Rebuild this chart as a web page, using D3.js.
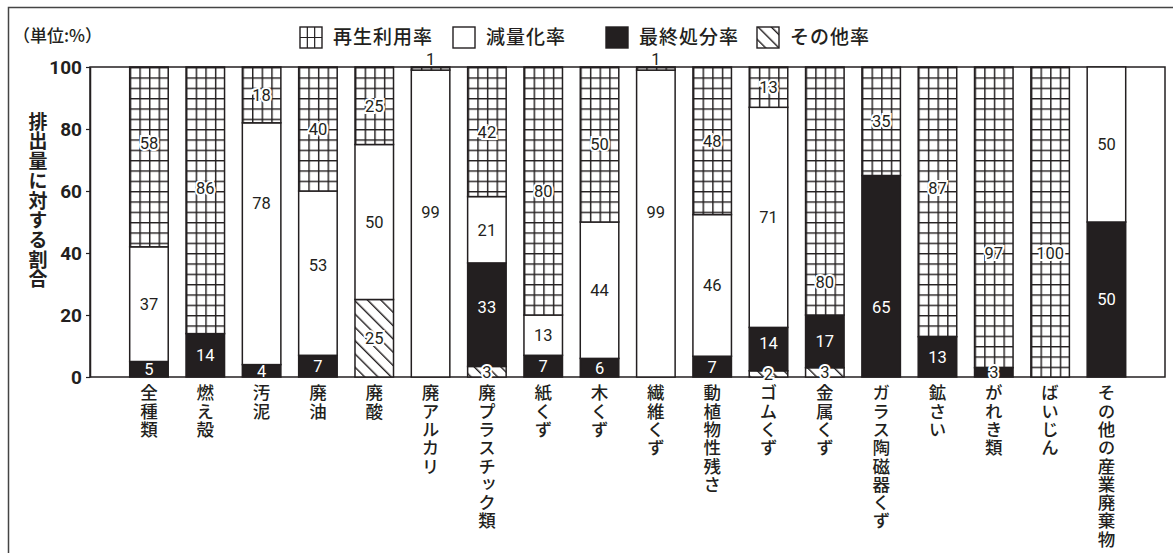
<!DOCTYPE html>
<html>
<head>
<meta charset="utf-8">
<script src="https://cdn.jsdelivr.net/npm/d3@7"></script>
<style>
  body { margin: 0; background: #fff; }
  svg { display: block; }
</style>
</head>
<body>
<svg id="chart"></svg>
<script>
// Data (rates in %)
const categories = ['全種類', '燃え殻', '汚泥', '廃油', '廃酸', '廃アルカリ', '廃プラスチック類', '紙くず', '木くず',
  '繊維くず', '動植物性残さ', 'ゴムくず', '金属くず', 'ガラス陶磁器くず', '鉱さい', 'がれき類', 'ばいじん', 'その他の産業廃棄物'];
const otherRate    = [0, 0, 0, 0, 25, 0, 3.4, 0, 0, 0, 0, 2, 3, 0, 0, 0, 0, 0];
const disposalRate = [5, 14, 4, 7, 0, 0, 33.4, 7, 6, 0, 6.7, 14, 17, 65, 13, 3, 0, 50];
const reductionRate = [37, 0, 78, 53, 50, 99, 21.4, 13, 44, 99, 45.7, 71, 0, 0, 0, 0, 0, 50];
const recycleRate  = [58, 86, 18, 40, 25, 1, 41.8, 80, 50, 1, 47.6, 13, 80, 35, 87, 97, 100, 0];
const yTicks = [0, 20, 40, 60, 80, 100];

const seriesKeys = ['other', 'disposal', 'reduction', 'recycle'];
const legendNames = { recycle: '再生利用率', reduction: '減量化率', disposal: '最終処分率', other: 'その他率' };
const legendOrder = ['recycle', 'reduction', 'disposal', 'other'];

// where the printed chart moved a label off the segment middle (value units)
const labelAt = {
  '全種類|recycle': 75.5, '燃え殻|recycle': 61, '汚泥|reduction': 56, '廃油|reduction': 36,
  '廃アルカリ|reduction': 53.3, '繊維くず|reduction': 53.3, '廃プラスチック類|disposal': 22.5,
  'ゴムくず|disposal': 11, '金属くず|recycle': 30.6, 'ガラス陶磁器くず|disposal': 22.6,
  '鉱さい|recycle': 61, 'がれき類|recycle': 40, 'ばいじん|recycle': 40
};

const rows = categories.map((c, i) => ({
  cat: c, other: otherRate[i], disposal: disposalRate[i], reduction: reductionRate[i], recycle: recycleRate[i]
}));

// Canvas
const width = 1173, height = 553;
const plot = { left: 90, right: 1165, top: 67, bottom: 377 };
const ink = '#231f20';
const numFont = 'Roboto, "Liberation Sans", sans-serif';
const jpFont = '"Noto Sans CJK JP", sans-serif';

const svg = d3.select('#chart').attr('width', width).attr('height', height);
const defs = svg.append('defs');

// outer frame
svg.append('rect')
  .attr('x', 8.5).attr('y', 7.5).attr('width', width + 20).attr('height', height + 20)
  .attr('fill', 'none').attr('stroke', '#444').attr('stroke-width', 1.5);

// Scales
const xScale = d3.scaleBand()
  .domain(categories)
  .range([plot.left + 30.8, plot.right - 30.4])
  .paddingInner(0.316)
  .paddingOuter(0.158);
const yScale = d3.scaleLinear().domain([0, 100]).range([plot.bottom, plot.top]);
const bw = xScale.bandwidth();
const cellH = (yScale(0) - yScale(100)) / 30;

// patterns: one grid per bar so the columns line up with the bar edges
categories.forEach((c, i) => {
  const p = defs.append('pattern')
    .attr('id', 'grid' + i)
    .attr('patternUnits', 'userSpaceOnUse')
    .attr('x', xScale(c)).attr('y', yScale(100))
    .attr('width', bw / 4).attr('height', cellH);
  p.append('rect').attr('width', bw / 4).attr('height', cellH).attr('fill', '#fff');
  p.append('path')
    .attr('d', `M0.7,0V${cellH}M0,0.7H${bw / 4}`)
    .attr('stroke', ink).attr('stroke-width', 1.5).attr('fill', 'none');
});
const hatch = defs.append('pattern')
  .attr('id', 'hatch')
  .attr('patternUnits', 'userSpaceOnUse')
  .attr('width', 9.4).attr('height', 9.4)
  .attr('patternTransform', 'rotate(-45)');
hatch.append('rect').attr('width', 9.4).attr('height', 9.4).attr('fill', '#fff');
hatch.append('line').attr('x1', 0.7).attr('y1', 0).attr('x2', 0.7).attr('y2', 9.4)
  .attr('stroke', ink).attr('stroke-width', 1.4);

const fillFor = (key, i) => {
  if (key === 'recycle') return `url(#grid${i})`;
  if (key === 'reduction') return '#fff';
  if (key === 'disposal') return ink;
  return 'url(#hatch)';
};

// plot box
svg.append('rect')
  .attr('x', plot.left).attr('y', plot.top)
  .attr('width', plot.right - plot.left).attr('height', plot.bottom - plot.top)
  .attr('fill', 'none').attr('stroke', ink).attr('stroke-width', 1.5);

// Stacked bars
const stacked = d3.stack().keys(seriesKeys)(rows);

const layers = svg.append('g').selectAll('g')
  .data(stacked)
  .enter()
  .append('g');

layers.selectAll('rect')
  .data(d => d.map((s, i) => ({ key: d.key, i: i, y0: s[0], y1: s[1], cat: s.data.cat, v: s.data[d.key] })))
  .enter()
  .filter(d => d.v > 0)
  .append('rect')
  .attr('x', d => xScale(d.cat))
  .attr('y', d => yScale(d.y1))
  .attr('width', bw)
  .attr('height', d => yScale(d.y0) - yScale(d.y1))
  .attr('fill', d => fillFor(d.key, d.i))
  .attr('stroke', ink)
  .attr('stroke-width', 1.5);

// Segment labels
const segs = [];
stacked.forEach(layer => {
  layer.forEach((s, i) => {
    const v = s.data[layer.key];
    if (v > 0) segs.push({ key: layer.key, i: i, y0: s[0], y1: s[1], cat: s.data.cat, v: v });
  });
});

const fmt = d3.format('.0f');
const labels = svg.append('g')
  .attr('font-family', numFont)
  .attr('font-size', 16.5)
  .attr('text-anchor', 'middle');

labels.selectAll('text')
  .data(segs)
  .enter()
  .append('text')
  .attr('x', d => xScale(d.cat) + bw / 2)
  .attr('y', d => {
    if (d.key === 'recycle' && d.v <= 1) return yScale(100) - 2;
    const at = labelAt[d.cat + '|' + d.key];
    return yScale(at !== undefined ? at : (d.y0 + d.y1) / 2);
  })
  .attr('dy', d => (d.key === 'recycle' && d.v <= 1) ? '0' : '0.36em')
  .attr('fill', d => (d.key === 'disposal' && d.v >= 4) ? '#fff' : ink)
  .attr('stroke', d => {
    if (d.key === 'reduction' || (d.key === 'disposal' && d.v >= 4)) return 'none';
    if (d.key === 'recycle' && d.v <= 1) return 'none';
    return '#fff';
  })
  .attr('stroke-width', 4)
  .attr('paint-order', 'stroke')
  .text(d => fmt(d.v));

// Axes
const yAxis = d3.axisLeft(yScale).tickValues(yTicks).tickSize(4).tickSizeOuter(0).tickPadding(4);
const gy = svg.append('g')
  .attr('id', 'y-axis')
  .attr('transform', 'translate(' + plot.left + ',0)')
  .call(yAxis);
gy.select('.domain').attr('stroke', ink).attr('stroke-width', 1.5);
gy.selectAll('.tick line').attr('stroke', ink).attr('stroke-width', 1.2);
gy.selectAll('.tick text')
  .attr('font-family', numFont)
  .attr('font-size', 19)
  .attr('font-weight', 'bold')
  .attr('fill', ink);

// Category labels, set vertically
svg.append('g')
  .selectAll('text')
  .data(categories)
  .enter()
  .append('text')
  .attr('x', d => xScale(d) + bw / 2)
  .attr('y', plot.bottom + 7)
  .style('writing-mode', 'vertical-rl')
  .attr('font-family', jpFont)
  .attr('font-size', 17.5)
  .attr('font-weight', 500)
  .attr('letter-spacing', 0.8)
  .attr('fill', ink)
  .text(d => d);

// y title
svg.append('text')
  .attr('x', 38)
  .attr('y', 112)
  .style('writing-mode', 'vertical-rl')
  .attr('font-family', jpFont)
  .attr('font-size', 19)
  .attr('font-weight', 'bold')
  .attr('letter-spacing', 0.7)
  .attr('fill', ink)
  .text('排出量に対する割合');

// unit
svg.append('text')
  .attr('x', 13)
  .attr('y', 36)
  .attr('dy', '0.35em')
  .attr('font-family', jpFont)
  .attr('font-size', 17)
  .attr('font-weight', 500)
  .attr('fill', ink)
  .text('（単位:%）');

// Legend
const legendX = [300, 453, 606, 757];
const box = { w: 22, h: 21, y: 27 };
const legend = svg.append('g')
  .selectAll('g')
  .data(legendOrder)
  .enter()
  .append('g')
  .attr('transform', (d, i) => 'translate(' + legendX[i] + ',' + box.y + ')');

legend.append('rect')
  .attr('width', box.w).attr('height', box.h)
  .attr('fill', d => d === 'disposal' ? ink : (d === 'other' ? 'url(#hatch)' : '#fff'))
  .attr('stroke', ink).attr('stroke-width', 1.4);

legend.filter(d => d === 'recycle')
  .append('path')
  .attr('d', `M${box.w / 3},0V${box.h}M${box.w * 2 / 3},0V${box.h}M0,${box.h / 2}H${box.w}`)
  .attr('stroke', ink).attr('stroke-width', 1.2);

legend.append('text')
  .attr('x', 33)
  .attr('y', box.h / 2)
  .attr('dy', '0.36em')
  .attr('font-family', jpFont)
  .attr('font-size', 19)
  .attr('font-weight', 500)
  .attr('letter-spacing', 1)
  .attr('fill', ink)
  .text(d => legendNames[d]);
</script>
</body>
</html>
